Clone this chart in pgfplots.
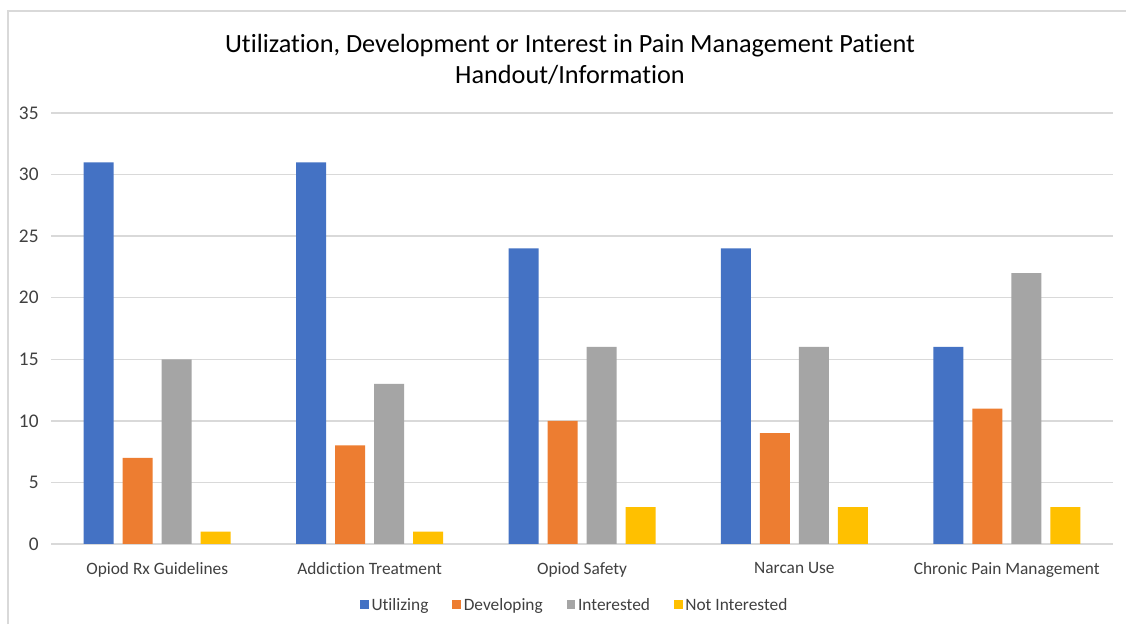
\documentclass[border=0pt]{standalone}
\usepackage{pgfplots}
\pgfplotsset{compat=1.18}
\usepackage{fontspec}
\setmainfont{Carlito}[Ligatures=NoCommon]
\definecolor{cblue}{HTML}{4472C4}
\definecolor{corange}{HTML}{ED7D31}
\definecolor{cgray}{HTML}{A5A5A5}
\definecolor{cyellow}{HTML}{FFC000}
\definecolor{gridc}{HTML}{D9D9D9}
\definecolor{txt}{HTML}{404040}
\begin{document}
\begin{tikzpicture}[x=0.75pt,y=0.75pt]
\useasboundingbox[fill=white] (0,0) rectangle (1126,624);
\draw[gridc, line width=1.2pt] (8,0) -- (8,613) -- (1126,613);
\node[align=center, font=\fontsize{19.7}{23.3}\selectfont, text=black] at (570,564.5) {Utilization, Development or Interest in Pain Management Patient\\Handout/Information};
\begin{axis}[
  at={(38.25pt,60pt)}, anchor=south west,
  scale only axis, width=796.5pt, height=323.25pt,
  ybar=6.75pt, bar width=22.5pt,
  xmin=-0.5, xmax=4.5, ymin=0, ymax=35,
  xtick={0,1,2,3,4},
  xticklabels={Opiod Rx Guidelines, Addiction Treatment, Opiod Safety, Narcan Use, Chronic Pain Management},
  ytick={0,5,...,35},
  ymajorgrids, grid style={gridc, line width=1.1pt},
  axis line style={draw=none},
  major tick length=0pt,
  /pgf/number format/assume math mode=true,
  tick label style={font=\fontsize{13}{15}\selectfont, text=txt},
  yticklabel style={xshift=-5.8pt, font=\fontsize{14.5}{16}\selectfont},
  xticklabel style={yshift=-10pt},
  legend style={at={(0.4935,-0.143)}, anchor=center, draw=none, fill=none,
    font=\fontsize{13}{15}\selectfont, text=txt, legend columns=4,
    /tikz/every even column/.append style={column sep=16pt}},
  legend image code/.code={\fill[#1] (0pt,-2.6pt) rectangle (6.5pt,3.9pt);},
]
\addplot[fill=cblue, draw=none] coordinates {(0,31) (1,31) (2,24) (3,24) (4,16)};
\addplot[fill=corange, draw=none] coordinates {(0,7) (1,8) (2,10) (3,9) (4,11)};
\addplot[fill=cgray, draw=none] coordinates {(0,15) (1,13) (2,16) (3,16) (4,22)};
\addplot[fill=cyellow, draw=none] coordinates {(0,1) (1,1) (2,3) (3,3) (4,3)};
\legend{Utilizing, Developing, Interested, Not Interested}
\end{axis}
\end{tikzpicture}
\end{document}
